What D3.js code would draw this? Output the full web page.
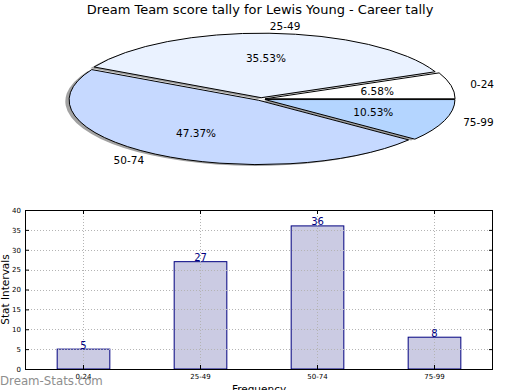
<!DOCTYPE html>
<html><head><meta charset="utf-8">
<script src="https://cdn.jsdelivr.net/npm/d3@7"></script>
<style>html,body{margin:0;padding:0;background:#fff;}svg{display:block;font-family:"DejaVu Sans",sans-serif;}</style>
</head><body>
<svg id="c" width="520" height="390"></svg>
<script>
const title = "Dream Team score tally for Lewis Young - Career tally";
const categories = ["0-24", "25-49", "50-74", "75-99"];
const values = [5, 27, 36, 8];
const pieColors = ["#ffffff", "#eaf2ff", "#c6d9ff", "#b4d5ff"];
const yTicks = [0, 5, 10, 15, 20, 25, 30, 35, 40];
const yLabel = "Stat Intervals";
const xLabel = "Frequency";
const watermark = "Dream-Stats.com";

const svg = d3.select("#c");

// Title
const t = svg.append("text").attr("x", 260).attr("y", 14).attr("text-anchor", "middle")
  .attr("font-size", 12).attr("fill", "#000").text(title);
const tl = t.node().getComputedTextLength();
t.attr("font-size", 12 * 347 / tl);

// Pie
const cx = 261, cy = 99.1, rx = 190, ry = 64.5, explode = 0.022;
const total = d3.sum(values);
const pie = d3.pie().sort(null).startAngle(Math.PI / 2).endAngle(Math.PI / 2 - 2 * Math.PI);
const arcs = pie(values);
const arc = d3.arc().innerRadius(0).outerRadius(1);
const pg = svg.append("g");
function off(d, k) {
  const m = (d.startAngle + d.endAngle) / 2;
  return [cx + k * rx * Math.sin(m), cy - k * ry * Math.cos(m)];
}
// shadows
arcs.forEach(d => {
  const [ox, oy] = off(d, explode);
  pg.append("path").attr("d", arc(d))
    .attr("transform", `translate(${ox - 0.02 * rx},${oy + 0.02 * ry}) scale(${rx},${ry})`)
    .attr("fill", "#555").attr("fill-opacity", 0.55);
});
arcs.forEach((d, i) => {
  const [ox, oy] = off(d, explode);
  pg.append("path").attr("d", arc(d))
    .attr("transform", `translate(${ox},${oy}) scale(${rx},${ry})`)
    .attr("fill", pieColors[i]).attr("stroke", "#000").attr("stroke-width", 1)
    .attr("vector-effect", "non-scaling-stroke");
});
arcs.forEach((d, i) => {
  const m = (d.startAngle + d.endAngle) / 2;
  const [ox, oy] = off(d, 0.025);
  const lx = ox + 1.1 * rx * Math.sin(m), ly = oy - 1.1 * ry * Math.cos(m);
  pg.append("text").attr("x", lx).attr("y", ly).attr("dy", "0.35em")
    .attr("text-anchor", Math.sin(m) > 0 ? "start" : "end")
    .attr("font-size", 10.5).text(categories[i]);
  const px = ox + 0.6 * rx * Math.sin(m), py = oy - 0.6 * ry * Math.cos(m);
  pg.append("text").attr("x", px).attr("y", py).attr("dy", "0.35em")
    .attr("text-anchor", "middle").attr("font-size", 10.5)
    .text((values[i] / total * 100).toFixed(2) + "%");
});

// Bar chart
const L = 25, R = 493, T = 210, B = 369;
const x = d3.scaleBand().domain(categories).range([L, R]).paddingInner(0.55).paddingOuter(0.275);
const y = d3.scaleLinear().domain([0, 40]).range([B, T]);
const bg = svg.append("g");
bg.selectAll("rect.bar").data(values).join("rect").attr("class", "bar")
  .attr("x", (d, i) => x(categories[i])).attr("width", x.bandwidth())
  .attr("y", d => y(d)).attr("height", d => y(0) - y(d))
  .attr("fill", "#cbcbe3").attr("stroke", "#000080").attr("stroke-width", 1);
// grid
const grid = bg.append("g").attr("stroke", "#b4b4b4").attr("stroke-dasharray", "1,2").attr("stroke-width", 1);
yTicks.slice(1, -1).forEach(v => grid.append("line").attr("x1", L).attr("x2", R).attr("y1", Math.round(y(v)) + 0.5).attr("y2", Math.round(y(v)) + 0.5));
categories.forEach(c => {
  const xc = Math.round(x(c) + x.bandwidth() / 2) + 0.5;
  grid.append("line").attr("x1", xc).attr("x2", xc).attr("y1", T).attr("y2", B);
});
// axes
const yAxisL = d3.axisLeft(y).tickValues(yTicks).tickSizeInner(-4).tickSizeOuter(0).tickPadding(4);
const gy = bg.append("g").attr("transform", `translate(${L},0)`).call(yAxisL);
gy.select(".domain").remove();
gy.selectAll("text").attr("font-size", 7).attr("font-family", "DejaVu Sans").attr("fill", "#000");
const yAxisR = d3.axisRight(y).tickValues(yTicks).tickSizeInner(-4).tickSizeOuter(0).tickFormat("");
const gyr = bg.append("g").attr("transform", `translate(${R},0)`).call(yAxisR);
gyr.select(".domain").remove();
const xAxisB = d3.axisBottom(x).tickSizeInner(-4).tickSizeOuter(0).tickPadding(5);
const gx = bg.append("g").attr("transform", `translate(0,${B})`).call(xAxisB);
gx.select(".domain").remove();
gx.selectAll("text").attr("font-size", 7).attr("font-family", "DejaVu Sans").attr("fill", "#000");
const xAxisT = d3.axisTop(x).tickSizeInner(-4).tickSizeOuter(0).tickFormat("");
const gxt = bg.append("g").attr("transform", `translate(0,${T})`).call(xAxisT);
gxt.select(".domain").remove();
bg.append("rect").attr("x", L + 0.5).attr("y", T + 0.5).attr("width", R - L - 1).attr("height", B - T)
  .attr("fill", "none").attr("stroke", "#000").attr("stroke-width", 1);
// value labels
bg.selectAll("text.val").data(values).join("text").attr("class", "val")
  .attr("x", (d, i) => x(categories[i]) + x.bandwidth() / 2).attr("y", d => y(d) - 0.5)
  .attr("text-anchor", "middle").attr("font-size", 10).attr("fill", "#000080").text(d => d);
// axis labels
svg.append("text").attr("transform", `translate(9,${(T + B) / 2}) rotate(-90)`)
  .attr("text-anchor", "middle").attr("font-size", 10.5).text(yLabel);
svg.append("text").attr("x", (L + R) / 2).attr("y", 393).attr("text-anchor", "middle")
  .attr("font-size", 10.5).text(xLabel);
// watermark
const w = svg.append("text").attr("x", 0).attr("y", 385).attr("font-size", 12)
  .attr("fill", "#8e8e8e").text(watermark);
w.attr("font-size", 12 * 103 / w.node().getComputedTextLength());
</script>
</body></html>
